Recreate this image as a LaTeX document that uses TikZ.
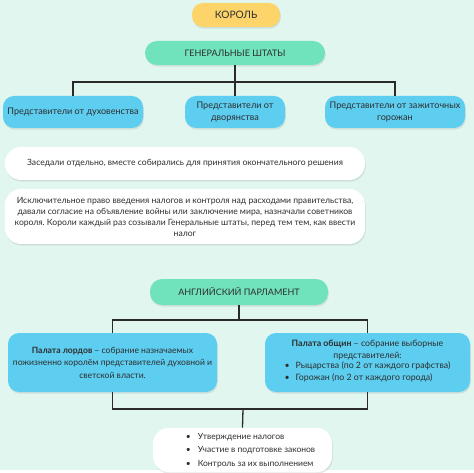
\documentclass[tikz,border=0pt]{standalone}
\usepackage{fontspec}
\setmainfont{Lato}
\usetikzlibrary{shadows}
\frenchspacing
\definecolor{bgc}{HTML}{E0F6EF}
\definecolor{yel}{HTML}{FCD46A}
\definecolor{mint}{HTML}{70E2BC}
\definecolor{blu}{HTML}{5DCDF0}
\definecolor{txt}{HTML}{2E2E2E}
\definecolor{ln}{HTML}{2A2A2A}
\tikzset{
  box/.style={rounded corners=10pt, align=center, inner sep=2pt, text=txt,
    drop shadow={opacity=0.18, shadow xshift=0.8pt, shadow yshift=-1.6pt}},
  yelbox/.style={box, fill=yel, rounded corners=11pt, font=\fontsize{10.2}{12}\selectfont},
  hdr/.style={box, fill=mint, rounded corners=12pt, font=\fontsize{9}{11}\selectfont},
  bluebox/.style={box, fill=blu, rounded corners=11pt, font=\fontsize{9.1}{12.5}\selectfont},
  whitebox/.style={box, fill=white, rounded corners=16pt, font=\fontsize{8.6}{11}\selectfont},
  link/.style={draw=ln, line width=1.3pt}
}
\begin{document}
\begin{tikzpicture}[x=1pt,y=-1pt]
\fill[bgc] (0,0) rectangle (474,473);
\fill[white] (0,470) rectangle (474,473);
\useasboundingbox (0,0) rectangle (474,473);

% France
\node[yelbox, minimum width=88pt, minimum height=24pt] (king) at (236,15) {КОРОЛЬ};
\node[hdr, minimum width=180pt, minimum height=24pt] (gs) at (235,53) {ГЕНЕРАЛЬНЫЕ ШТАТЫ};
\node[bluebox, minimum width=140pt, minimum height=32pt] (b1) at (73,112) {Представители от духовенства};
\node[bluebox, minimum width=100pt, minimum height=32pt] (b2) at (235,112) {Представители от\\дворянства};
\node[bluebox, minimum width=140pt, minimum height=32pt] (b3) at (395,112) {Представители от зажиточных\\горожан};

\coordinate (j1) at (235,82);
\draw[link] (gs.south) -- (j1);
\draw[link] (j1) -| (b1.north);
\draw[link] (j1) -| (b3.north);
\draw[link] (j1) -- (b2.north);

\node[whitebox, minimum width=360pt, minimum height=33pt] (w1) at (185,163.5) {Заседали отдельно, вместе собирались для принятия окончательного решения};
\node[whitebox, minimum width=360pt, minimum height=55pt] (w2) at (185,216.5) {Исключительное право введения налогов и контроля над расходами правительства,\\давали согласие на объявление войны или заключение мира, назначали советников\\короля. Короли каждый раз созывали Генеральные штаты, перед тем тем, как ввести\\налог};

% England
\node[hdr, minimum width=178pt, minimum height=26pt] (ep) at (239,292) {АНГЛИЙСКИЙ ПАРЛАМЕНТ};
\node[bluebox, minimum width=209pt, minimum height=59pt, font=\fontsize{8.6}{12.5}\selectfont] (l1) at (112.5,362.5) {\textbf{Палата лордов} – собрание назначаемых\\пожизненно королём представителей духовной и\\светской власти.};
\node[bluebox, minimum width=205pt, minimum height=59pt, font=\fontsize{8.8}{12}\selectfont] (l2) at (367.5,362.5) {\textbf{Палата общин} – собрание выборные\\представителей:\\[-1pt]
\begin{tabular}{@{}l@{\hspace{6pt}}l@{}}
\textbullet & Рыцарства (по 2 от каждого графства)\\
\textbullet & Горожан (по 2 от каждого города)
\end{tabular}};

\coordinate (j2) at (239,320);
\draw[link] (ep.south) -- (j2);
\draw[link] (j2) -| (l1.north);
\draw[link] (j2) -| (l2.north);

\node[whitebox, minimum width=179pt, minimum height=44pt, font=\fontsize{8.5}{13.5}\selectfont] (w3) at (242.5,450) {\begin{tabular}{@{\hspace{16pt}}l@{\hspace{7pt}}l@{}}
\textbullet & Утверждение налогов\\
\textbullet & Участие в подготовке законов\\
\textbullet & Контроль за их выполнением
\end{tabular}};

\coordinate (j3) at (243,409);
\draw[link] (l1.south) |- (j3);
\draw[link] (l2.south) |- (j3);
\draw[link] (j3) -- (w3.north);
\end{tikzpicture}
\end{document}
